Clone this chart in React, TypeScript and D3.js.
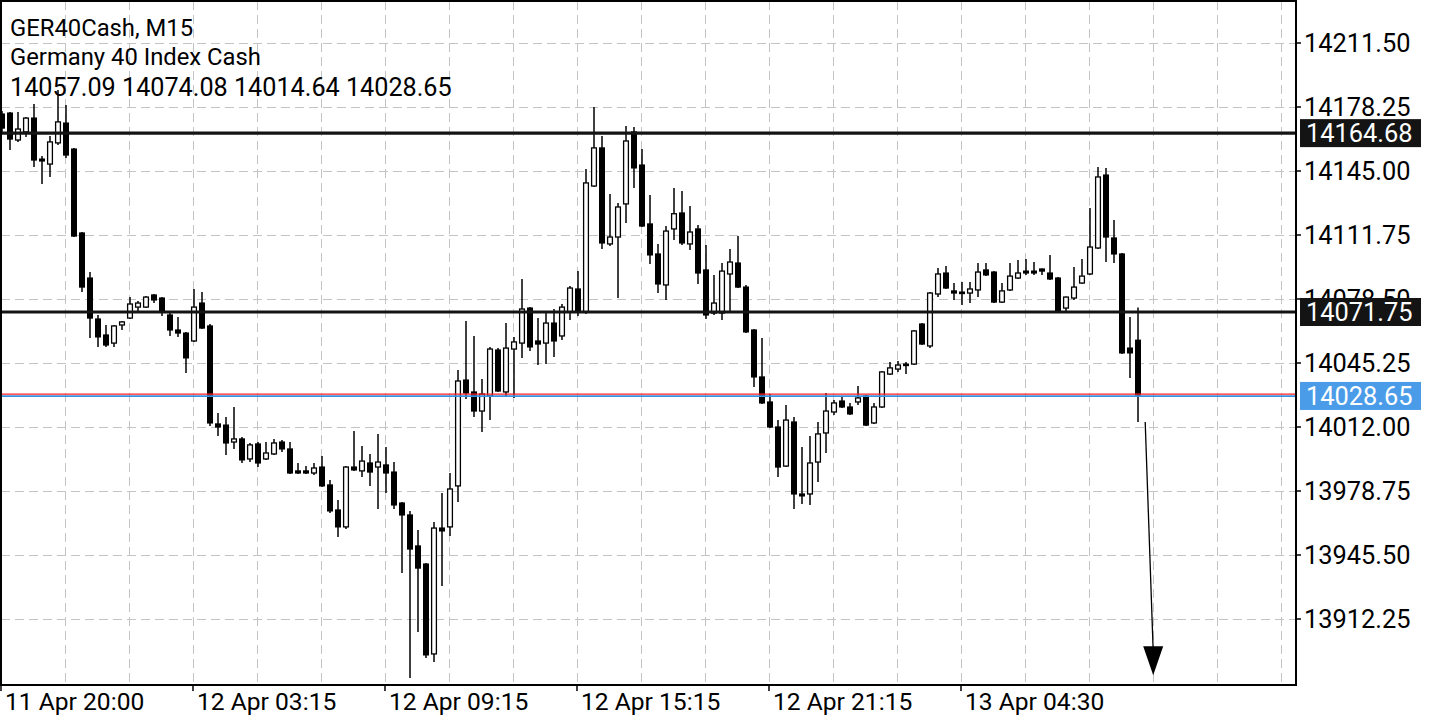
import React from "react";
import * as d3 from "d3";

// ---------- data ----------
const opens = [
  14174.6, 14175.1, 14161.1, 14165.3, 14172.5, 14151.2, 14148.6, 14159.6, 14169.9, 14156.4,
  14112.8, 14089.4, 14068.1, 14059.8, 14055.6, 14065.0, 14068.6, 14074.3, 14074.3, 14080.6,
  14079.0, 14070.2, 14062.4, 14060.8, 14056.7, 14076.4, 14064.5, 14013.6, 14013.0, 14004.2,
  14005.8, 13995.4, 14003.2, 13995.4, 13998.0, 14004.2, 14000.6, 13989.2, 13989.2, 13988.1,
  13991.2, 13981.9, 13968.9, 13960.1, 13991.2, 13989.2, 13993.3, 13991.2, 13992.3, 13988.6,
  13972.5, 13966.3, 13950.2, 13940.8, 13894.1, 13959.5, 13960.1, 13981.4, 14036.4, 14030.2,
  14020.3, 14028.1, 14052.0, 14030.2, 14052.5, 14055.6, 14073.8, 14056.7, 14055.6, 14066.0,
  14059.3, 14071.8, 14083.7, 14071.8, 14137.2, 14157.0, 14107.1, 14110.7, 14127.9, 14165.3,
  14148.1, 14117.5, 14101.9, 14085.8, 14114.9, 14123.2, 14107.1, 14114.9, 14093.6, 14071.2,
  14071.2, 14091.5, 14097.2, 14084.7, 14062.4, 14038.0, 14025.0, 14012.0, 13991.7, 14014.6,
  13977.2, 13977.2, 13993.8, 14008.9, 14019.8, 14025.5, 14022.4, 14025.0, 14028.1, 14014.1,
  14022.4, 14039.5, 14042.1, 14044.7, 14044.7, 14065.5, 14054.1, 14081.1, 14092.0, 14082.7,
  14082.1, 14081.6, 14083.2, 14093.6, 14092.5, 14076.9, 14083.2, 14089.4, 14093.0, 14093.0,
  14094.1, 14092.0, 14089.4, 14073.8, 14079.0, 14086.8, 14091.5, 14105.0, 14142.9, 14110.2,
  14101.9, 14053.0, 14057.09,
];
const highs = [
  14176.2, 14175.7, 14175.7, 14173.1, 14179.8, 14152.8, 14163.2, 14187.1, 14179.3, 14157.0,
  14113.3, 14092.5, 14070.2, 14065.0, 14065.0, 14067.1, 14079.5, 14077.5, 14080.1, 14081.1,
  14079.5, 14071.2, 14069.2, 14061.4, 14083.7, 14082.1, 14065.5, 14019.3, 14017.2, 14022.4,
  14006.8, 14003.7, 14004.2, 14004.2, 14005.8, 14005.3, 14004.2, 13993.3, 13991.7, 13993.3,
  13996.9, 13984.5, 13974.1, 13991.7, 14009.9, 14002.1, 13998.0, 14008.4, 14001.6, 13993.8,
  13973.0, 13968.4, 13958.5, 13941.3, 13962.6, 13977.7, 13988.1, 14041.6, 14067.1, 14059.3,
  14036.9, 14053.6, 14053.0, 14066.0, 14058.8, 14088.9, 14074.3, 14068.6, 14071.2, 14073.3,
  14075.9, 14085.3, 14093.0, 14146.0, 14178.3, 14163.2, 14133.1, 14128.4, 14168.4, 14167.9,
  14156.4, 14132.5, 14107.1, 14116.4, 14136.2, 14134.6, 14126.8, 14116.9, 14106.6, 14091.0,
  14097.2, 14104.5, 14111.2, 14085.8, 14062.9, 14058.2, 14029.1, 14015.6, 14023.4, 14017.2,
  14001.6, 14007.3, 14014.6, 14029.7, 14026.0, 14028.1, 14024.5, 14033.3, 14028.6, 14024.5,
  14041.1, 14045.8, 14046.3, 14045.8, 14062.4, 14066.0, 14082.1, 14094.6, 14095.6, 14086.8,
  14087.3, 14087.3, 14097.2, 14097.2, 14093.0, 14086.8, 14097.2, 14098.8, 14099.3, 14097.7,
  14094.3, 14101.4, 14089.9, 14079.8, 14095.1, 14099.3, 14125.8, 14147.1, 14146.6, 14119.5,
  14102.4, 14069.2, 14074.08,
];
const lows = [
  14165.3, 14155.9, 14160.1, 14162.7, 14147.1, 14138.3, 14141.9, 14158.5, 14151.8, 14110.7,
  14082.1, 14058.2, 14053.6, 14053.6, 14053.6, 14062.4, 14068.1, 14071.8, 14073.8, 14076.4,
  14069.7, 14059.3, 14058.8, 14040.1, 14056.2, 14062.9, 14012.5, 14007.3, 13997.5, 14000.6,
  13993.3, 13993.8, 13991.2, 13994.9, 13997.5, 13999.0, 13987.6, 13987.6, 13987.6, 13987.1,
  13980.8, 13967.3, 13954.9, 13959.0, 13989.2, 13986.0, 13981.4, 13969.4, 13977.7, 13969.4,
  13936.1, 13881.6, 13905.5, 13892.0, 13889.9, 13929.4, 13955.4, 13973.0, 14026.6, 14017.2,
  14009.4, 14015.6, 14030.2, 14028.1, 14027.1, 14047.9, 14051.5, 14044.2, 14044.7, 14048.4,
  14057.2, 14067.6, 14069.7, 14070.7, 14136.7, 14104.5, 14106.0, 14079.0, 14118.0, 14136.2,
  14115.9, 14096.7, 14081.6, 14078.0, 14109.2, 14106.6, 14104.0, 14086.3, 14068.1, 14070.2,
  14067.6, 14071.8, 14084.2, 14060.8, 14032.8, 14024.0, 14011.5, 13986.0, 13991.2, 13969.4,
  13972.0, 13971.5, 13983.4, 13998.5, 14018.2, 14021.9, 14018.2, 14023.4, 14012.5, 14013.6,
  14021.9, 14039.0, 14040.6, 14039.5, 14044.2, 14054.6, 14053.0, 14079.5, 14083.7, 14078.0,
  14075.4, 14076.4, 14079.5, 14090.4, 14076.4, 14076.4, 14082.7, 14088.9, 14091.0, 14091.0,
  14091.0, 14088.4, 14071.2, 14072.3, 14078.0, 14086.3, 14091.0, 14104.5, 14097.7, 14097.2,
  14049.9, 14037.5, 14014.64,
];
const closes = [
  14167.3, 14161.6, 14166.8, 14172.5, 14150.7, 14150.2, 14160.1, 14170.5, 14153.3, 14111.2,
  14084.7, 14068.6, 14058.8, 14054.6, 14064.5, 14066.6, 14075.9, 14076.4, 14079.5, 14078.0,
  14071.8, 14062.4, 14060.8, 14047.9, 14074.3, 14063.4, 14014.1, 14012.0, 14003.7, 14005.8,
  13994.9, 14002.7, 13993.3, 13998.5, 14003.7, 14000.6, 13988.1, 13988.1, 13988.1, 13990.7,
  13981.4, 13968.4, 13960.1, 13991.2, 13989.7, 13994.3, 13988.6, 13993.8, 13988.1, 13971.5,
  13966.3, 13948.6, 13938.7, 13893.6, 13959.5, 13958.0, 13979.8, 14035.9, 14029.7, 14020.3,
  14029.1, 14052.5, 14030.7, 14053.0, 14056.2, 14073.3, 14053.6, 14055.1, 14066.0, 14056.7,
  14074.3, 14084.2, 14071.8, 14138.8, 14157.0, 14107.6, 14110.7, 14126.3, 14160.6, 14146.6,
  14116.4, 14101.4, 14086.3, 14113.8, 14122.8, 14107.6, 14113.3, 14092.0, 14070.2, 14076.4,
  14093.0, 14097.7, 14084.7, 14061.4, 14038.0, 14024.5, 14012.0, 13991.2, 14015.6, 13977.2,
  13976.2, 13993.3, 14008.4, 14020.3, 14024.5, 14022.4, 14018.8, 14027.1, 14013.0, 14022.4,
  14040.6, 14042.7, 14044.2, 14044.2, 14061.9, 14055.1, 14081.6, 14091.5, 14084.2, 14081.6,
  14081.6, 14083.7, 14092.5, 14091.0, 14076.9, 14082.7, 14090.4, 14092.0, 14092.0, 14092.0,
  14093.0, 14088.9, 14071.8, 14079.5, 14084.7, 14090.4, 14105.5, 14141.9, 14110.7, 14101.9,
  14050.5, 14050.5, 14028.65,
];

const timeLabels = [
  "11 Apr 20:00",
  "12 Apr 03:15",
  "12 Apr 09:15",
  "12 Apr 15:15",
  "12 Apr 21:15",
  "13 Apr 04:30",
];
const timeLabelBars = [0, 24, 48, 72, 96, 120];
const gridBars = [8, 16, 24, 32, 40, 48, 56, 64, 72, 80, 88, 96, 104, 112, 120, 128, 136, 144, 152, 160];

const priceTicks = [14211.5, 14178.25, 14145.0, 14111.75, 14078.5, 14045.25, 14012.0, 13978.75, 13945.5, 13912.25];
const levelLines = [14164.68, 14071.75];
const bidPrice = 14028.65;

const titleLine = "GER40Cash, M15";
const nameLine = "Germany 40 Index Cash";

// annotation arrow (bar index, price)
const arrowFrom = { bar: 142.9, price: 14014.64 };
const arrowTo = { bar: 143.9, price: 13883 };

// ---------- drawing ----------
const W = 1440;
const H = 720;
const PL = 1;
const PR = 1296;
const PT = 1;
const PB = 685;
const FONT = "Roboto, 'Noto Sans', sans-serif";

export default function App() {
  const x = d3.scaleLinear().domain([0, 161.75]).range([2, PR]);
  const y = d3.scaleLinear().domain([13912.25, 14211.5]).range([619, 43]);
  const fmt = d3.format(".2f");

  const candles = opens.map((o, i) => ({ o, h: highs[i], l: lows[i], c: closes[i], i }));
  const bodyW = 6;

  return (
    <svg
      width={W}
      height={H}
      style={{ position: "fixed", left: 0, top: 0, background: "#fff" }}
      fontFamily={FONT}
    >
      <rect x={0} y={0} width={W} height={H} fill="#fff" />
      <defs>
        <clipPath id="plot">
          <rect x={PL} y={PT} width={PR - PL} height={PB - PT} />
        </clipPath>
      </defs>

      {/* grid */}
      <g stroke="#c4c4c4" strokeWidth={1} strokeDasharray="9,5">
        {priceTicks.map((p) => (
          <line key={"h" + p} x1={PL} x2={PR} y1={Math.round(y(p)) + 0.5} y2={Math.round(y(p)) + 0.5} />
        ))}
        {gridBars.map((b) => (
          <line key={"v" + b} x1={Math.round(x(b)) - 0.5} x2={Math.round(x(b)) - 0.5} y1={PT} y2={PB} />
        ))}
      </g>

      {/* candles */}
      <g clipPath="url(#plot)">
        {candles.map((d) => {
          const cx = Math.round(x(d.i));
          const up = d.c >= d.o;
          const top = y(Math.max(d.o, d.c));
          const bot = y(Math.min(d.o, d.c));
          const hgt = Math.max(bot - top, 1.5);
          return (
            <g key={d.i}>
              <line x1={cx} x2={cx} y1={y(d.h)} y2={y(d.l)} stroke="#000" strokeWidth={1.5} />
              {up ? (
                <rect
                  x={cx - bodyW / 2 + 0.6}
                  y={top}
                  width={bodyW - 1.2}
                  height={hgt}
                  fill="#fff"
                  stroke="#000"
                  strokeWidth={1.3}
                />
              ) : (
                <rect x={cx - bodyW / 2} y={top - 0.6} width={bodyW} height={hgt + 1.2} fill="#000" />
              )}
            </g>
          );
        })}
      </g>

      {/* level lines */}
      {levelLines.map((p) => (
        <line key={"l" + p} x1={PL} x2={PR} y1={y(p)} y2={y(p)} stroke="#141414" strokeWidth={3.2} />
      ))}
      {/* ask / bid lines */}
      <line x1={PL} x2={PR} y1={y(bidPrice) - 0.8} y2={y(bidPrice) - 0.8} stroke="#ff2020" strokeWidth={1.4} />
      <line x1={PL} x2={PR} y1={y(bidPrice) + 1.2} y2={y(bidPrice) + 1.2} stroke="#3c8fe0" strokeWidth={1.8} />

      {/* arrow annotation */}
      <line
        x1={x(arrowFrom.bar)}
        y1={y(arrowFrom.price)}
        x2={x(arrowTo.bar)}
        y2={y(arrowTo.price) - 24}
        stroke="#000"
        strokeWidth={1.3}
      />
      <path
        d={`M${x(arrowTo.bar)},${y(arrowTo.price)} L${x(arrowTo.bar) - 10},${y(arrowTo.price) - 29} L${x(arrowTo.bar) + 10},${y(arrowTo.price) - 29} Z`}
        fill="#000"
      />

      {/* frame */}
      <rect x={PL} y={PT} width={PR - PL} height={PB - PT} fill="none" stroke="#000" strokeWidth={2} />

      {/* header */}
      <g fill="#000">
        <text x={10} y={36} fontSize={23.8}>{titleLine}</text>
        <text x={10} y={65} fontSize={23.8}>{nameLine}</text>
        <text x={10} y={96} fontSize={25.2}>
          {[opens[opens.length - 1], highs[highs.length - 1], lows[lows.length - 1], closes[closes.length - 1]]
            .map((v) => fmt(v))
            .join(" ")}
        </text>
      </g>

      {/* price axis */}
      <g fontSize={25.4} fill="#000">
        {priceTicks.map((p) => (
          <g key={"t" + p}>
            <line x1={PR} x2={PR + 5} y1={y(p)} y2={y(p)} stroke="#000" strokeWidth={1.5} />
            <text x={1304} y={y(p)} dy="0.36em">{fmt(p)}</text>
          </g>
        ))}
      </g>

      {/* level labels */}
      {levelLines.map((p) => (
        <g key={"lb" + p}>
          <rect x={1300} y={y(p) - 14} width={121} height={28} fill="#141414" />
          <text x={1306} y={y(p)} dy="0.36em" fontSize={25.4} fill="#fff">{fmt(p)}</text>
        </g>
      ))}
      <rect x={1300} y={y(bidPrice) - 13} width={121} height={28} fill="#4b9ce8" />
      <text x={1306} y={y(bidPrice) + 1} dy="0.36em" fontSize={25.4} fill="#fff">{fmt(bidPrice)}</text>

      {/* time axis */}
      <g fontSize={24.6} fill="#000">
        {timeLabelBars.map((b, i) => {
          const gx = Math.round(x(b)) - 1;
          return (
            <g key={"tl" + b}>
              <line x1={gx} x2={gx} y1={PB} y2={PB + 6} stroke="#000" strokeWidth={1.5} />
              <text x={gx + 4} y={710}>{timeLabels[i]}</text>
            </g>
          );
        })}
      </g>
    </svg>
  );
}
